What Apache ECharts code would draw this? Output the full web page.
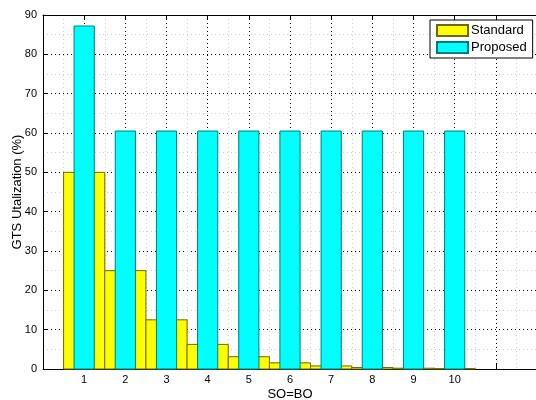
<!DOCTYPE html>
<html>
<head>
<meta charset="utf-8">
<script src="https://cdn.jsdelivr.net/npm/echarts@6/dist/echarts.min.js"></script>
<style>
html,body{margin:0;padding:0;background:#fff;}
#c{width:536px;height:400px;}
</style>
</head>
<body>
<div id="c"></div>
<script>
const categories = [1, 2, 3, 4, 5, 6, 7, 8, 9, 10];
const standardValues = [50, 25, 12.5, 6.25, 3.125, 1.5625, 0.78, 0.39, 0.2, 0.1];
const proposedValues = [87.2, 60.5, 60.5, 60.5, 60.5, 60.5, 60.5, 60.5, 60.5, 60.5];
const yTicks = [0, 10, 20, 30, 40, 50, 60, 70, 80, 90];

const FONT = 'Liberation Sans, Arial, sans-serif';

function barRenderer(halfWidth) {
  return function (params, api) {
    const x = api.value(0), y = api.value(1);
    const p0 = api.coord([x - halfWidth, y]);
    const p1 = api.coord([x + halfWidth, 0]);
    return {
      type: 'rect',
      shape: { x: p0[0], y: p0[1], width: p1[0] - p0[0], height: p1[1] - p0[1] },
      style: api.style()
    };
  };
}

const chart = echarts.init(document.getElementById('c'), null, { renderer: 'canvas' });

const majorSplit = { show: true, lineStyle: { color: '#000', type: [1, 3], width: 1 } };
const minorSplit = { show: true, lineStyle: { color: '#d0d0d0', type: [1, 3], width: 1 } };

chart.setOption({
  animation: false,
  backgroundColor: '#fff',
  grid: { left: 43, top: 15, width: 494, height: 354, containLabel: false, outerBoundsMode: 'none' },
  legend: {
    orient: 'vertical',
    left: 430, top: 20,
    width: 97,
    padding: [4, 6, 4, 6],
    itemGap: 4,
    itemWidth: 31,
    itemHeight: 11,
    borderColor: '#000',
    borderWidth: 1,
    backgroundColor: '#fff',
    icon: 'rect',
    textStyle: { fontFamily: FONT, fontSize: 13, color: '#000', padding: [0, 0, 0, -2] },
    data: ['Standard', 'Proposed']
  },
  xAxis: [{
    type: 'value', min: 0, max: 12, interval: 1,
    name: 'SO=BO', nameLocation: 'middle', nameGap: 19, nameMoveOverlap: false,
    nameTextStyle: { fontFamily: FONT, fontSize: 13, color: '#000' },
    axisLine: { show: true, onZero: false, lineStyle: { color: '#000', width: 1 } },
    axisTick: { show: true, inside: true, length: 5, lineStyle: { color: '#000' } },
    axisLabel: {
      fontFamily: FONT, fontSize: 11, color: '#000', margin: 5,
      formatter: function (v) { return categories.indexOf(v) >= 0 ? String(v) : ''; }
    },
    splitLine: majorSplit,
    minorTick: { show: true, splitNumber: 2, length: 0 },
    minorSplitLine: minorSplit
  }, {
    type: 'value', min: 0, max: 12, interval: 1, position: 'top',
    axisLine: { show: true, onZero: false, lineStyle: { color: '#000', width: 1 } },
    axisTick: { show: true, inside: true, length: 5, lineStyle: { color: '#000' } },
    axisLabel: { show: false },
    splitLine: { show: false }
  }],
  yAxis: [{
    type: 'value', min: 0, max: 90, interval: 10,
    name: 'GTS Utalization (%)', nameLocation: 'middle', nameGap: 19, nameMoveOverlap: false,
    nameTextStyle: { fontFamily: FONT, fontSize: 13, color: '#000' },
    axisLine: { show: true, onZero: false, lineStyle: { color: '#000', width: 1 } },
    axisTick: { show: true, inside: true, length: 5, lineStyle: { color: '#000' } },
    axisLabel: {
      fontFamily: FONT, fontSize: 11, color: '#000', margin: 6,
      formatter: function (v) { return yTicks.indexOf(v) >= 0 ? String(v) : ''; }
    },
    splitLine: majorSplit,
    minorTick: { show: true, splitNumber: 2, length: 0 },
    minorSplitLine: minorSplit
  }],
  series: [{
    name: 'Standard',
    type: 'custom',
    renderItem: barRenderer(0.5),
    encode: { x: 0, y: 1 },
    itemStyle: { color: '#ffff00', borderColor: '#6b6b00', borderWidth: 1 },
    data: categories.map((c, i) => [c, standardValues[i]]),
    z: 2
  }, {
    name: 'Proposed',
    type: 'custom',
    renderItem: barRenderer(0.245),
    encode: { x: 0, y: 1 },
    itemStyle: { color: '#00ffff', borderColor: '#007a7a', borderWidth: 1 },
    data: categories.map((c, i) => [c, proposedValues[i]]),
    z: 3
  }]
});
</script>
</body>
</html>
